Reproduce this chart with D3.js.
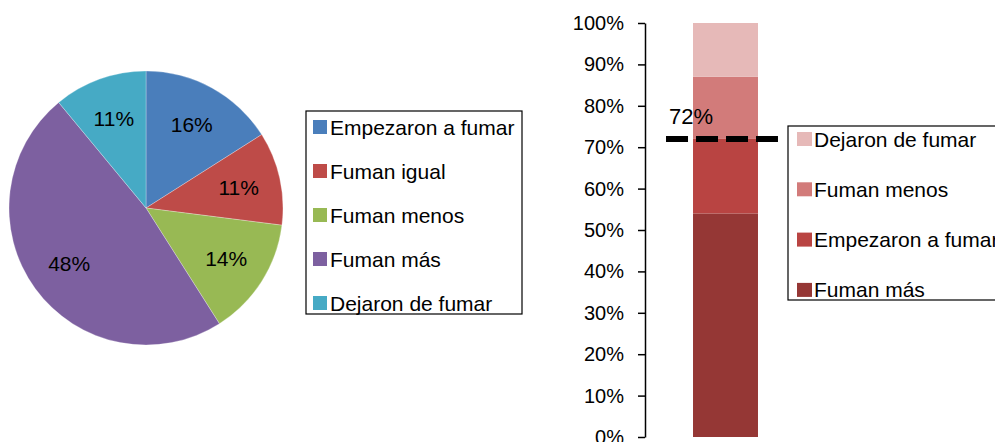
<!DOCTYPE html>
<html lang="es">
<head>
<meta charset="utf-8">
<style type="text/css">
    body { margin: 0; background: #fff; }
    svg { display: block; font-family: "Liberation Sans", Arial, Helvetica, sans-serif; }
    .axis path, .axis line { stroke: #000; stroke-width: 1.5px; }
    .axis text { font-size: 20px; fill: #000; }
    .legend-box { fill: #fff; stroke: #000; stroke-width: 1.2px; }
    .legend text { font-size: 21px; fill: #000; }
</style>
</head>
<body>
<svg width="995" height="442"></svg>
<script src="https://cdn.jsdelivr.net/npm/d3@7"></script>
<script type="text/javascript">

// pie: distribution of all groups
var pieCategories = ["Empezaron a fumar", "Fuman igual", "Fuman menos", "Fuman más", "Dejaron de fumar"];
var pieValues = [16, 11, 14, 48, 11];
var pieColors = ["#4a7ebb", "#be4b48", "#98b954", "#7d60a0", "#46aac5"];

// stacked bar: groups that changed habit (bottom to top)
var barCategories = ["Fuman más", "Empezaron a fumar", "Fuman menos", "Dejaron de fumar"];
var barValues = [54, 18, 15, 13];
var barColors = ["#953735", "#b94442", "#d27b7a", "#e6b9b8"];

var refValue = 72;
var yTicks = [0, 10, 20, 30, 40, 50, 60, 70, 80, 90, 100];

var svg = d3.select("svg");

// ---------- pie ----------
var cx = 146, cy = 208, radius = 137;

var pie = d3.pie().sort(null).value(function (d) { return d.value; });
var pieData = pie(pieCategories.map(function (c, i) { return { name: c, value: pieValues[i], color: pieColors[i] }; }));

var arc = d3.arc().innerRadius(0).outerRadius(radius);
var labelArc = d3.arc().innerRadius(95).outerRadius(95);

var pieG = svg.append("g").attr("transform", "translate(" + cx + "," + cy + ")");

pieG.selectAll("path")
    .data(pieData)
    .enter()
    .append("path")
    .attr("d", arc)
    .attr("fill", function (d) { return d.data.color; })
    .attr("stroke", "#fff")
    .attr("stroke-opacity", 0.35)
    .attr("stroke-width", 0.8);

pieG.selectAll("text")
    .data(pieData)
    .enter()
    .append("text")
    .attr("transform", function (d) { return "translate(" + labelArc.centroid(d) + ")"; })
    .attr("text-anchor", "middle")
    .attr("dy", "0.36em")
    .style("font-size", "21px")
    .text(function (d) { return d.data.value + "%"; });

// pie legend
var pieLegend = svg.append("g").attr("class", "legend").attr("transform", "translate(306,111)");
pieLegend.append("rect").attr("class", "legend-box").attr("width", 216).attr("height", 203);

var pieItem = pieLegend.selectAll(".item")
    .data(pieData)
    .enter()
    .append("g")
    .attr("class", "item")
    .attr("transform", function (d, i) { return "translate(7," + (16 + i * 44) + ")"; });

pieItem.append("rect").attr("x", 0).attr("y", -7).attr("width", 14).attr("height", 14)
    .attr("fill", function (d) { return d.data.color; });
pieItem.append("text").attr("x", 17).attr("dy", "0.36em")
    .text(function (d) { return d.data.name; });

// ---------- stacked bar ----------
var y = d3.scaleLinear().domain([0, 100]).range([437, 23]);
var x = d3.scaleBand().domain(["total"]).range([645, 806]).padding(0.425);

svg.append("g")
    .attr("class", "axis")
    .attr("transform", "translate(645,0)")
    .call(d3.axisLeft(y).tickValues(yTicks).tickSize(7).tickSizeOuter(0).tickPadding(14)
        .tickFormat(function (d) { return d + "%"; }));

var stackData = [];
var base = 0;
barCategories.forEach(function (c, i) {
    stackData.push({ name: c, y0: base, y1: base + barValues[i], color: barColors[i] });
    base += barValues[i];
});

svg.selectAll(".seg")
    .data(stackData)
    .enter()
    .append("rect")
    .attr("class", "seg")
    .attr("x", x("total"))
    .attr("width", x.bandwidth())
    .attr("y", function (d) { return y(d.y1); })
    .attr("height", function (d) { return y(d.y0) - y(d.y1); })
    .attr("fill", function (d) { return d.color; });

// reference line
var lineX0 = x("total") - 27, lineX1 = x("total") + x.bandwidth() + 20;
svg.append("line")
    .attr("x1", lineX0).attr("x2", lineX1)
    .attr("y1", y(refValue)).attr("y2", y(refValue))
    .attr("stroke", "#000")
    .attr("stroke-width", 6)
    .attr("stroke-dasharray", "22,8");

svg.append("text")
    .attr("x", lineX0 + 3)
    .attr("y", y(refValue) - 15)
    .style("font-size", "22px")
    .text(refValue + "%");

// bar legend (top to bottom reversed)
var barLegend = svg.append("g").attr("class", "legend").attr("transform", "translate(788,126)");
barLegend.append("rect").attr("class", "legend-box").attr("width", 230).attr("height", 174);

var barItem = barLegend.selectAll(".item")
    .data(stackData.slice().reverse())
    .enter()
    .append("g")
    .attr("class", "item")
    .attr("transform", function (d, i) { return "translate(9," + (13 + i * 50.3) + ")"; });

barItem.append("rect").attr("x", 0).attr("y", -7).attr("width", 15).attr("height", 14)
    .attr("fill", function (d) { return d.color; });
barItem.append("text").attr("x", 17).attr("dy", "0.36em")
    .text(function (d) { return d.name; });

</script>
</body>
</html>
